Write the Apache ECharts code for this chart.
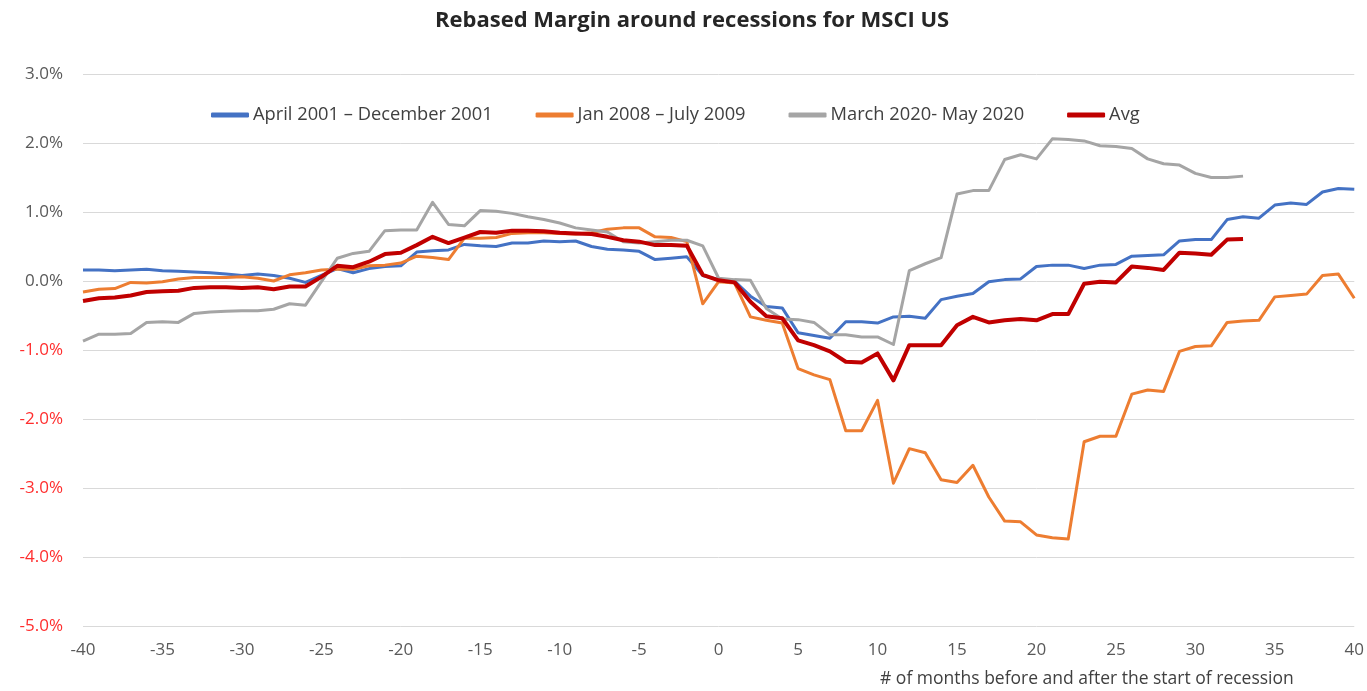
<!DOCTYPE html>
<html>
<head>
<meta charset="utf-8">
<script src="https://cdn.jsdelivr.net/npm/echarts@6/dist/echarts.min.js"></script>
<style>
  html, body { margin: 0; padding: 0; background: #fff; }
  #marginChart { width: 1367px; height: 691px; }
</style>
</head>
<body>
<div id="marginChart"></div>
<script>
  // months relative to start of recession
  var months = [];
  for (var m = -40; m <= 40; m++) months.push(m);

  var seriesNames = ['April 2001 – December 2001', 'Jan 2008 – July 2009', 'March 2020- May 2020', 'Avg'];

  // values in % (-40 .. 40)
  var apr2001 = [0.16, 0.16, 0.15, 0.16, 0.17, 0.15, 0.14, 0.13, 0.12, 0.10,
    0.08, 0.10, 0.08, 0.04, -0.02, 0.08, 0.18, 0.12, 0.18, 0.21,
    0.22, 0.42, 0.44, 0.45, 0.53, 0.51, 0.50, 0.55, 0.55, 0.58,
    0.57, 0.58, 0.50, 0.46, 0.45, 0.43, 0.31, 0.33, 0.35, 0.08,
    0.02, 0.00, -0.22, -0.37, -0.39, -0.75, -0.79, -0.83, -0.59, -0.59,
    -0.61, -0.52, -0.51, -0.54, -0.27, -0.22, -0.18, -0.01, 0.02, 0.03,
    0.21, 0.23, 0.23, 0.18, 0.23, 0.24, 0.36, 0.37, 0.38, 0.58,
    0.60, 0.60, 0.89, 0.93, 0.91, 1.10, 1.13, 1.11, 1.29, 1.34, 1.33];

  var jan2008 = [-0.16, -0.12, -0.11, -0.02, -0.03, -0.01, 0.03, 0.05, 0.05, 0.05,
    0.06, 0.04, 0.00, 0.09, 0.12, 0.16, 0.17, 0.17, 0.22, 0.23,
    0.26, 0.36, 0.34, 0.31, 0.62, 0.62, 0.63, 0.69, 0.70, 0.70,
    0.69, 0.68, 0.70, 0.75, 0.77, 0.77, 0.64, 0.63, 0.57, -0.33,
    -0.01, -0.03, -0.52, -0.57, -0.61, -1.27, -1.36, -1.43, -2.17, -2.17,
    -1.73, -2.93, -2.43, -2.49, -2.88, -2.92, -2.67, -3.13, -3.48, -3.49,
    -3.68, -3.72, -3.74, -2.33, -2.25, -2.25, -1.64, -1.58, -1.60, -1.02,
    -0.95, -0.94, -0.60, -0.58, -0.57, -0.23, -0.21, -0.19, 0.08, 0.10, -0.25];

  // -40 .. 33
  var mar2020 = [-0.87, -0.77, -0.77, -0.76, -0.60, -0.59, -0.60, -0.47, -0.45, -0.44,
    -0.43, -0.43, -0.41, -0.33, -0.35, -0.01, 0.33, 0.40, 0.43, 0.73,
    0.74, 0.74, 1.14, 0.82, 0.80, 1.02, 1.01, 0.98, 0.93, 0.89,
    0.84, 0.77, 0.74, 0.71, 0.57, 0.55, 0.57, 0.59, 0.59, 0.51,
    0.04, 0.02, 0.01, -0.40, -0.55, -0.56, -0.60, -0.78, -0.78, -0.81,
    -0.81, -0.92, 0.15, 0.25, 0.34, 1.26, 1.31, 1.31, 1.76, 1.83,
    1.77, 2.06, 2.05, 2.03, 1.96, 1.95, 1.92, 1.77, 1.70, 1.68,
    1.56, 1.50, 1.50, 1.52];

  var avg = [-0.29, -0.25, -0.24, -0.21, -0.16, -0.15, -0.14, -0.10, -0.09, -0.09,
    -0.10, -0.09, -0.12, -0.08, -0.08, 0.06, 0.22, 0.20, 0.28, 0.39,
    0.41, 0.52, 0.64, 0.55, 0.63, 0.71, 0.70, 0.73, 0.73, 0.72,
    0.70, 0.69, 0.68, 0.64, 0.59, 0.57, 0.52, 0.52, 0.51, 0.09,
    0.01, -0.02, -0.30, -0.51, -0.54, -0.86, -0.93, -1.02, -1.17, -1.18,
    -1.05, -1.44, -0.93, -0.93, -0.93, -0.64, -0.52, -0.60, -0.57, -0.55,
    -0.57, -0.48, -0.48, -0.04, -0.01, -0.02, 0.21, 0.19, 0.16, 0.41,
    0.40, 0.38, 0.60, 0.61];

  var colors = ['#4472C4', '#ED7D31', '#A5A5A5', '#C00000'];
  var font = '"Open Sans", "Noto Sans", sans-serif';

  function pairs(vals) {
    return vals.map(function (v, i) { return [months[i], v]; });
  }

  function lineSeries(idx, vals, width) {
    return {
      name: seriesNames[idx],
      type: 'line',
      data: pairs(vals),
      showSymbol: false,
      symbol: 'none',
      smooth: false,
      lineStyle: {width: width, color: colors[idx], join: 'round'},
      itemStyle: {color: colors[idx]},
      z: idx === 3 ? 5 : 2
    };
  }

  var chart = echarts.init(document.getElementById('marginChart'));
  chart.setOption({
    animation: false,
    backgroundColor: '#fff',
    title: {
      text: 'Rebased Margin around recessions for MSCI US',
      left: 430,
      top: 5,
      textStyle: {fontFamily: font, fontSize: 22, fontWeight: 'bold', color: '#262626'}
    },
    legend: {
      data: seriesNames,
      top: 101,
      left: 206,
      itemGap: 43,
      itemWidth: 38,
      itemHeight: 5,
      icon: 'roundRect',
      textStyle: {fontFamily: font, fontSize: 18.3, color: '#404040', padding: [0, 0, 0, -1]}
    },
    grid: {left: 83, right: 12, top: 74, bottom: 65, containLabel: false},
    xAxis: {
      type: 'value',
      min: -40,
      max: 40,
      interval: 5,
      axisLine: {show: false},
      axisTick: {show: false},
      splitLine: {show: false},
      axisLabel: {fontFamily: font, fontSize: 17, color: '#595959', margin: 16}
    },
    yAxis: {
      type: 'value',
      min: -5,
      max: 3,
      interval: 1,
      axisLine: {show: false},
      axisTick: {show: false},
      splitLine: {lineStyle: {color: '#d9d9d9', width: 1}},
      axisLabel: {
        fontFamily: font,
        fontSize: 17,
        margin: 20,
        formatter: function (v) { return v.toFixed(1) + '%'; },
        color: function (v) { return Number(v) < 0 ? '#ff2d2d' : '#595959'; }
      }
    },
    graphic: [{
      type: 'text',
      left: 880,
      top: 670,
      style: {
        text: '# of months before and after the start of recession',
        fontFamily: font,
        fontSize: 17.5,
        fill: '#404040'
      }
    }],
    series: [
      lineSeries(0, apr2001, 3),
      lineSeries(1, jan2008, 3),
      lineSeries(2, mar2020, 3),
      lineSeries(3, avg, 4)
    ]
  });
</script>
</body>
</html>
